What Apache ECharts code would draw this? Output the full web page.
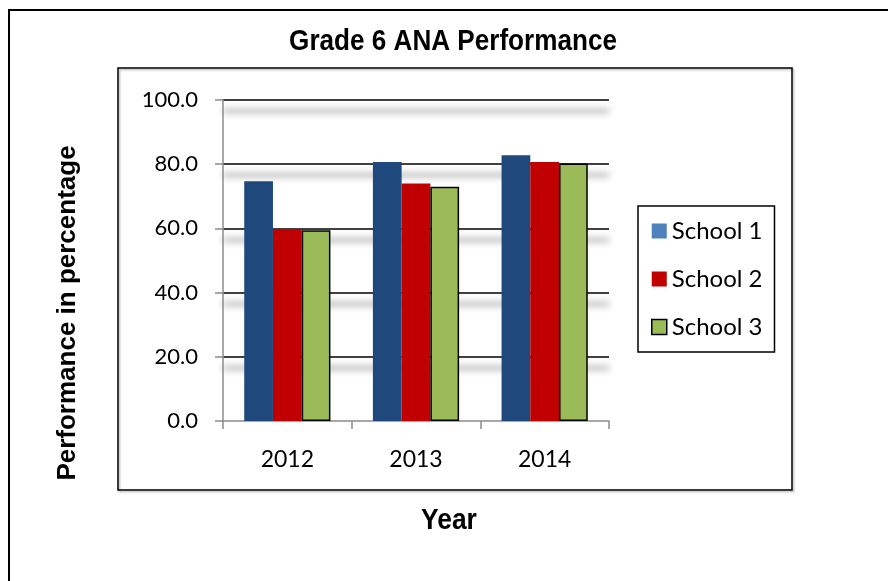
<!DOCTYPE html>
<html>
<head>
<meta charset="utf-8">
<script src="https://cdn.jsdelivr.net/npm/echarts@6/dist/echarts.min.js"></script>
<style>
  html, body { margin: 0; padding: 0; background: #fff; }
  #chart { width: 888px; height: 581px; }
</style>
</head>
<body>
<div id="chart"></div>
<script>
// data
const years = ['2012', '2013', '2014']
const school1 = [74.7, 80.7, 82.8]
const school2 = [59.7, 74.0, 80.7]
const school3 = [59.4, 73.0, 80.2]
const seriesNames = ['School 1', 'School 2', 'School 3']

const tickFont = 'Lato, "Open Sans", sans-serif'
const boldFont = 'bold 30px "Liberation Sans", Arial, sans-serif'

const chart = echarts.init(document.getElementById('chart'))

const option = {
  animation: false,
  backgroundColor: '#fff',
  legend: {
    orient: 'vertical',
    left: 638,
    top: 206,
    padding: [13, 12, 13, 13],
    itemGap: 24,
    itemWidth: 15,
    itemHeight: 15,
    borderColor: '#000',
    borderWidth: 1.5,
    icon: 'rect',
    textStyle: { fontFamily: tickFont, fontSize: 24, color: '#000', lineHeight: 24 },
    data: [
      { name: 'School 1', itemStyle: { color: '#4F81BD', borderWidth: 0 } },
      { name: 'School 2', itemStyle: { color: '#C00000', borderWidth: 0 } },
      { name: 'School 3', itemStyle: { color: '#9BBB59', borderColor: '#000', borderWidth: 1.5 } }
    ]
  },
  grid: {
    left: 223,
    right: 279,
    top: 100,
    bottom: 160
  },
  xAxis: {
    type: 'category',
    data: years,
    axisLine: { lineStyle: { color: '#8c8c8c', width: 1.5 } },
    axisTick: { show: true, length: 8, lineStyle: { color: '#8c8c8c', width: 1.5 } },
    axisLabel: { fontFamily: tickFont, fontSize: 23, color: '#000', margin: 27 }
  },
  yAxis: {
    type: 'value',
    min: 0,
    max: 100,
    interval: 20,
    axisLine: { show: true, lineStyle: { color: '#8c8c8c', width: 1.5 } },
    axisTick: { show: true, length: 8, lineStyle: { color: '#8c8c8c', width: 1.5 } },
    axisLabel: {
      fontFamily: tickFont,
      fontSize: 22,
      color: '#000',
      margin: 25,
      formatter: v => v.toFixed(1)
    },
    splitLine: {
      show: true,
      lineStyle: {
        color: ['rgba(0,0,0,0)', '#000', '#000', '#000', '#000', '#000'],
        width: 1.5,
        shadowColor: 'rgba(0,0,0,0.85)',
        shadowBlur: 7,
        shadowOffsetY: 11
      }
    }
  },
  series: [
    {
      name: seriesNames[0],
      type: 'bar',
      data: school1,
      barGap: '0%',
      barCategoryGap: '33%',
      itemStyle: { color: '#1F497D' }
    },
    {
      name: seriesNames[1],
      type: 'bar',
      data: school2,
      itemStyle: { color: '#C00000' }
    },
    {
      name: seriesNames[2],
      type: 'bar',
      data: school3,
      itemStyle: { color: '#9BBB59', borderColor: '#000', borderWidth: 1.5 }
    }
  ],
  graphic: [
    {
      type: 'rect',
      silent: true,
      shape: { x: 9, y: 10, width: 1000, height: 1000 },
      style: { fill: 'none', stroke: '#000', lineWidth: 2 }
    },
    {
      type: 'rect',
      silent: true,
      shape: { x: 118, y: 68, width: 674, height: 422 },
      style: {
        fill: 'none',
        stroke: '#000',
        lineWidth: 1.5,
        shadowColor: 'rgba(0,0,0,0.3)',
        shadowBlur: 2,
        shadowOffsetX: 1.5,
        shadowOffsetY: 1.5
      }
    },
    // title, narrow bold
    {
      type: 'text',
      silent: true,
      x: 453,
      y: 42,
      scaleX: 0.87,
      style: { text: 'Grade 6 ANA Performance', font: boldFont, fill: '#000', align: 'center', verticalAlign: 'middle' }
    },
    // x axis name
    {
      type: 'text',
      silent: true,
      x: 449,
      y: 521,
      scaleX: 0.88,
      style: { text: 'Year', font: boldFont, fill: '#000', align: 'center', verticalAlign: 'middle' }
    },
    // y axis name
    {
      type: 'text',
      silent: true,
      x: 68,
      y: 313,
      rotation: Math.PI / 2,
      style: {
        text: 'Performance in percentage',
        font: 'bold 26px "Liberation Sans", Arial, sans-serif',
        fill: '#000',
        align: 'center',
        verticalAlign: 'middle'
      }
    }
  ]
}

chart.setOption(option)
</script>
</body>
</html>
